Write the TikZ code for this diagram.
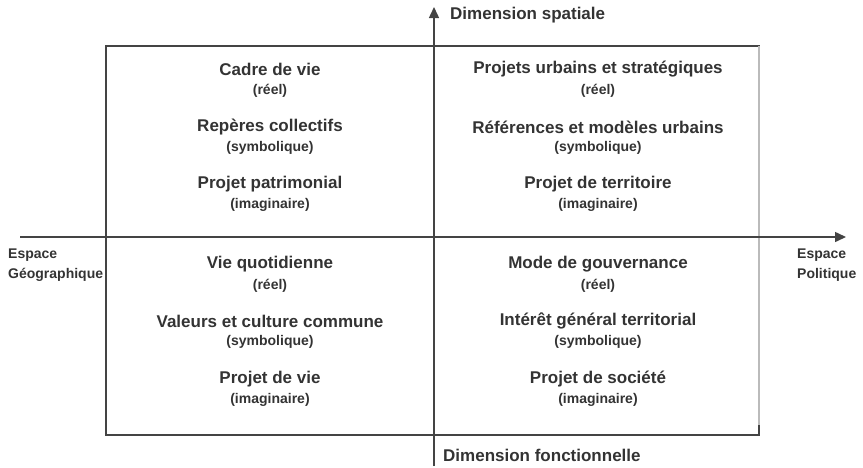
\documentclass[tikz,border=0pt]{standalone}
\usepackage{fontspec}
\setmainfont{Liberation Sans}
\usetikzlibrary{arrows.meta}
\definecolor{txt}{HTML}{333333}
\definecolor{ln}{HTML}{444444}
\definecolor{lightln}{HTML}{BBBBBB}
\tikzset{
  ttl/.style={font=\fontsize{17}{19}\selectfont\bfseries, text=txt, inner sep=0pt, anchor=center},
  sub/.style={font=\fontsize{14}{16}\selectfont\bfseries, text=txt, inner sep=0pt, anchor=center},
  axlbl/.style={font=\fontsize{14}{20}\selectfont\bfseries, text=txt, inner sep=0pt, align=left, anchor=north west},
  dimlbl/.style={font=\fontsize{17}{19}\selectfont\bfseries, text=txt, inner sep=0pt, anchor=west},
  axis/.style={draw=ln, line width=1.5pt, -{Triangle[length=11pt,width=10pt]}},
  frame/.style={draw=ln, line width=1.8pt},
}
\begin{document}
\begin{tikzpicture}[x=1pt,y=-1pt]
\useasboundingbox (0,0) rectangle (863,467);
% frame
\coordinate (tl) at (106,46);
\coordinate (tr) at (759,46);
\coordinate (br) at (759,435);
\coordinate (bl) at (106,435);
\coordinate (brup) at (759,425);
\draw[frame, line cap=rect] (tr) -- (tl) -- (bl) -- (br);
\draw[draw=lightln, line width=1.8pt] (tr) -- (br);
\draw[draw=ln, line width=1.8pt] (brup) -- (br);
% axes
\coordinate (hs) at (20,237);
\coordinate (he) at (846,237);
\coordinate (vs) at (434,466);
\coordinate (ve) at (434,7);
\draw[axis] (hs) -- (he);
\draw[axis] (vs) -- (ve);
% axis labels
\node[dimlbl] (ds) at (450,15) {Dimension spatiale};
\node[dimlbl] (df) at (443,455) {Dimension fonctionnelle};
\node[axlbl] (eg) at (8,249) {Espace\\Géographique};
\node[axlbl] (ep) at (797,249) {Espace\\Politique};
% upper left
\node[ttl] (a1) at (270,69) {Cadre de vie};
\node[sub] (a1s) at (270,91) {(réel)};
\node[ttl] (a2) at (270,127) {Repères collectifs};
\node[sub] (a2s) at (270,148) {(symbolique)};
\node[ttl] (a3) at (270,184) {Projet patrimonial};
\node[sub] (a3s) at (270,205) {(imaginaire)};
% upper right
\node[ttl] (b1) at (598,69) {Projets urbains et stratégiques};
\node[sub] (b1s) at (598,91) {(réel)};
\node[ttl] (b2) at (598,127) {Références et modèles urbains};
\node[sub] (b2s) at (598,148) {(symbolique)};
\node[ttl] (b3) at (598,184) {Projet de territoire};
\node[sub] (b3s) at (598,205) {(imaginaire)};
% lower left
\node[ttl] (c1) at (270,264) {Vie quotidienne};
\node[sub] (c1s) at (270,286) {(réel)};
\node[ttl] (c2) at (270,321) {Valeurs et culture commune};
\node[sub] (c2s) at (270,342) {(symbolique)};
\node[ttl] (c3) at (270,379) {Projet de vie};
\node[sub] (c3s) at (270,400) {(imaginaire)};
% lower right
\node[ttl] (d1) at (598,264) {Mode de gouvernance};
\node[sub] (d1s) at (598,286) {(réel)};
\node[ttl] (d2) at (598,321) {Intérêt général territorial};
\node[sub] (d2s) at (598,342) {(symbolique)};
\node[ttl] (d3) at (598,379) {Projet de société};
\node[sub] (d3s) at (598,400) {(imaginaire)};
\end{tikzpicture}
\end{document}
